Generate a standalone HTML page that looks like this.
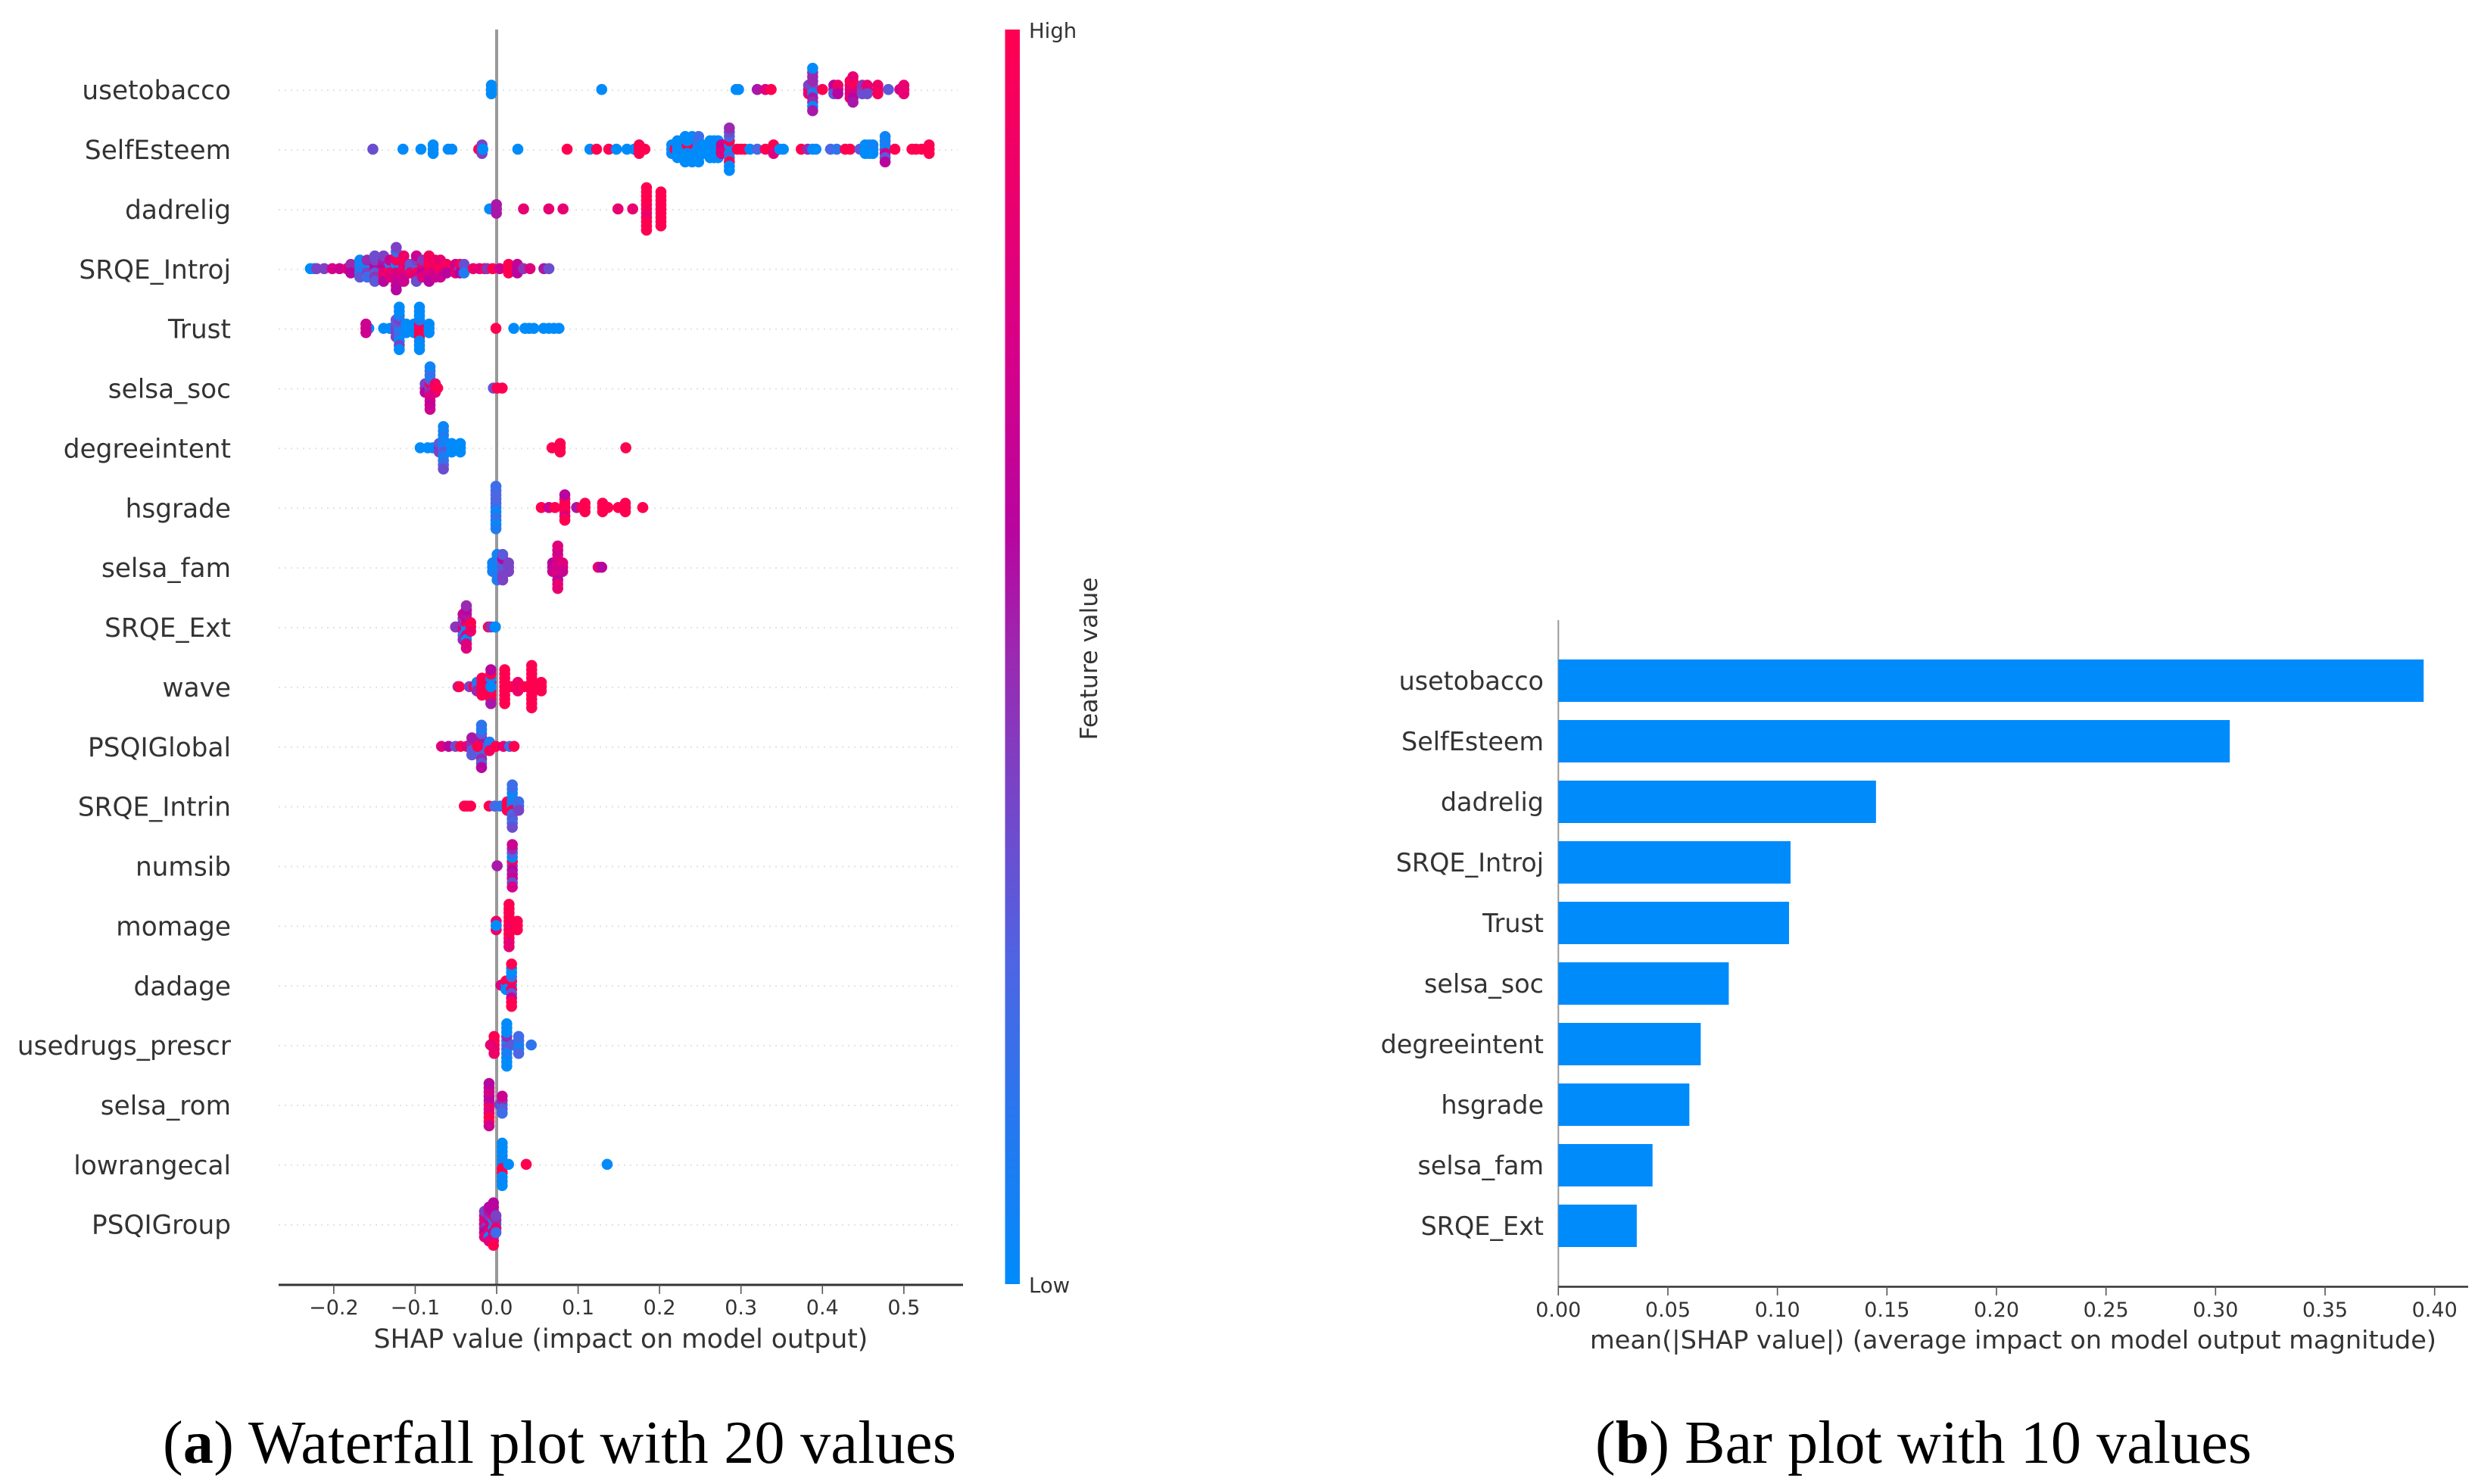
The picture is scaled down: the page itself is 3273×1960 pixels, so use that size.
<!DOCTYPE html>
<html lang="en">
<head>
<meta charset="utf-8">
<title>SHAP summary plots</title>
<style>
  html, body { margin: 0; padding: 0; background: #fff; }
  svg { display: block; }
  text { font-family: "DejaVu Sans", "Liberation Sans", sans-serif; fill: #333; }
  .caption { font-family: "Liberation Serif", serif; fill: #000; }
</style>
</head>
<body>
<svg id="figure" xmlns="http://www.w3.org/2000/svg" width="3273" height="1960" viewBox="0 0 3273 1960">
  <defs>
    <linearGradient id="colorbar-gradient" x1="0" y1="1" x2="0" y2="0">
      <stop offset="0" stop-color="#008bfb"/>
      <stop offset="0.25" stop-color="#4c66e4"/>
      <stop offset="0.5" stop-color="#9a2ab0"/>
      <stop offset="0.6" stop-color="#b8059f"/>
      <stop offset="0.75" stop-color="#d80088"/>
      <stop offset="1" stop-color="#ff0051"/>
    </linearGradient>
  </defs>
  <rect width="3273" height="1960" fill="#fff"/>
  <g id="swarm-plot"></g>
  <g id="bar-plot"></g>

  <text x="820" y="1780" font-size="34.6" text-anchor="middle">SHAP value (impact on model output)</text>
  <rect x="1327.5" y="39" width="19.5" height="1657" fill="url(#colorbar-gradient)"/>
  <text x="1359" y="50" font-size="27.5">High</text>
  <text x="1359" y="1707" font-size="27.5">Low</text>
  <text transform="translate(1449 870) rotate(-90)" font-size="31.5" text-anchor="middle">Feature value</text>
  <text x="2659" y="1781" font-size="33" text-anchor="middle" textLength="1118" lengthAdjust="spacingAndGlyphs">mean(|SHAP value|) (average impact on model output magnitude)</text>

  <text class="caption" x="215" y="1932" font-size="80" textLength="1048" lengthAdjust="spacing">(<tspan font-weight="bold">a</tspan>) Waterfall plot with 20 values</text>
  <text class="caption" x="2107" y="1932" font-size="80" textLength="867" lengthAdjust="spacing">(<tspan font-weight="bold">b</tspan>) Bar plot with 10 values</text>
</svg>

<script>
// ---- Beeswarm data: each column is [SHAP value, [feature value of each stacked dot]] ----
const swarmFeatures = ["usetobacco","SelfEsteem","dadrelig","SRQE_Introj","Trust","selsa_soc","degreeintent","hsgrade","selsa_fam","SRQE_Ext","wave","PSQIGlobal","SRQE_Intrin","numsib","momage","dadage","usedrugs_prescr","selsa_rom","lowrangecal","PSQIGroup"];
const swarmTickValues = [-0.2,-0.1,0,0.1,0.2,0.3,0.4,0.5];
const swarmTickLabels = ["\u22120.2","\u22120.1","0.0","0.1","0.2","0.3","0.4","0.5"];

const swarmUsetobacco = [[-.0065,[0,0,0]],[.129,[0]],[.294,[0]],[.297,[0]],[.32,[.55]],[.33,[.8]],[.337,[1]],[.383,[.9,.4,.9]],[.388,[.3,.35,.1,.5,.55,.5,.5,.5,0,0,.55]],[.40,[1]],[.414,[.4,.6,.3]],[.419,[.55,.9,.6]],[.434,[.8,.9,.8,.95,.85]],[.4375,[.9,.85,.8,1,.6,.85,.55]],[.449,[.4,.45,.35]],[.455,[.5,.85,.35]],[.468,[.95,.9,.95]],[.481,[.3]],[.495,[.75]],[.50,[.85,.85,.85]]];
const swarmSelfEsteem = [[-.152,[.35]],[-.115,[0]],[-.093,[0]],[-.078,[0,0,0]],[-.0595,[0]],[-.055,[0]],[-.022,[1]],[-.018,[.4,.4,.4]],[-.017,[0]],[.026,[0]],[.0865,[1]],[.1145,[0]],[.1227,[1]],[.1376,[1]],[.147,[0]],[.16,[0]],[.169,[0]],[.175,[1,1,1]],[.182,[1]],[.215,[0,0,0]],[.219,[1]],[.222,[0,0,0,0,0]],[.2315,[0,0,0,0,0,0,0]],[.24,[0,0,0,0,0,0,0]],[.234,[0,1,0,0,0]],[.248,[.05,.05,0,.15,0,.2,0]],[.2525,[0,0,0]],[.2585,[0,0,0]],[.262,[0,0,0,0,0]],[.267,[0,.05,0,0,0]],[.272,[0,0,0,0,0]],[.276,[.8,.7,.8]],[.2857,[.9,.1,.05,1,.2,.25,1,.35,0,.5,0]],[.2955,[1]],[.30,[1]],[.3045,[1]],[.311,[0]],[.32,[.25]],[.33,[1]],[.34,[1,1,.8]],[.3476,[0]],[.352,[0]],[.374,[1]],[.382,[.5]],[.388,[0]],[.392,[0]],[.41,[.25]],[.4175,[.15]],[.428,[1]],[.434,[1]],[.446,[.3]],[.4525,[0,0,0]],[.4575,[0,0,0]],[.462,[0,.05,0]],[.477,[.35,0,.7,.1,.3,.05,.6]],[.489,[1]],[.51,[1]],[.515,[1]],[.5215,[1]],[.531,[1,1,1]]];
const swarmDadrelig = [[-.0087,[0]],[-.0003,[.55,.55,.55]],[.033,[.85]],[.064,[.85]],[.0815,[.85]],[.149,[.85]],[.167,[.85]],[.184,[.85,.95,.95,1,.85,1,1,1,1,1,1]],[.2017,[1,1,1,1,1,1,1,1,1]]];
const swarmIntroj = [[-.2287,[0]],[-.224,[0]],[-.221,[.4]],[-.2117,[.4]],[-.2018,[.75]],[-.193,[.7]],[-.184,[.8]],[-.179,[.6,.5,.6]],[-.168,[.2,.1,.1,.05,.3]],[-.159,[.3,0,.4,.5,.2]],[-.1496,[.9,.6,.3,.4,.45,.35,.3]],[-.1388,[1,.6,.8,.55,.9,.4,.6]],[-.131,[1,.2,.9,.7,.8]],[-.1233,[.9,0,.8,.95,.75,.95,.7,.2,.65,.4,.6]],[-.114,[.85,.8,.9,.95,.75,.9,.7]],[-.106,[0,.3,.85]],[-.0985,[.5,.3,.95,.4,.8,.7,.35]],[-.091,[.7,.9,.6,.45,.8]],[-.083,[.75,1,.85,.95,.7,.95,.6]],[-.0754,[.6,.95,.8,.9,.7]],[-.069,[1,1,.9,.85,.7]],[-.0614,[.8,.95,.6]],[-.0505,[.9,.7,.8]],[-.045,[.3,.95,.6]],[-.04,[.7,.35,.1]],[-.0288,[.9]],[-.021,[.8]],[-.015,[.95]],[-.0118,[.45]],[-.005,[1]],[.0037,[.7]],[.0146,[1,1,1]],[.0254,[.6,.65,.6]],[.033,[.45]],[.041,[.8]],[.058,[.55]],[.0642,[.35]]];
const swarmTrust = [[-.157,[0]],[-.1605,[.7,.7,.7]],[-.1388,[0]],[-.131,[0]],[-.1235,[.4,.35,.4,.3,.4]],[-.1196,[0,.3,.1,.4,.2,.1,0,0,.4,0,0]],[-.111,[0,0,0]],[-.1016,[0,0,0]],[-.0948,[1,.9,1,.1,1,0,.05,0,0,0,0]],[-.083,[0,0,0]],[-.0009,[1]],[.021,[0]],[.0347,[0]],[.04,[0]],[.0456,[0]],[.0576,[0]],[.0642,[0]],[.0704,[0]],[.0765,[0]]];
const swarmSoc = [[-.0877,[.5,.4,.6]],[-.0818,[.3,.9,.5,.3,.8,.1,.75,.2,.65,.05,.7]],[-.0753,[1,.9,.8]],[-.0725,[1]],[-.004,[.35]],[.0006,[1]],[.0068,[1]]];
const swarmDegree = [[-.0939,[0]],[-.0846,[0]],[-.0784,[0]],[-.0705,[.5,.3,.4]],[-.0654,[.15,.05,.3,.1,.1,.05,.1,.1,.2,.05,.35]],[-.0551,[0,0,0]],[-.0446,[0,0,0]],[.068,[1]],[.078,[1,1,1]],[.1586,[1]]];
const swarmHsgrade = [[-.0009,[.25,.2,0,.25,.1,.25,.2,.25,0,.2,.1]],[.0548,[1]],[.0641,[.7]],[.0716,[1]],[.0837,[.8,1,1,1,.8,.6,1]],[.0982,[.55]],[.1085,[1,1,1]],[.1045,[1]],[.1301,[1,1,1]],[.1367,[1]],[.1494,[1]],[.158,[1,1,1]],[.1794,[1]]];
const swarmFam = [[-.005,[.05,.05,.05]],[.0006,[.02,.05,.08,.1,.1,.05,.1]],[.0074,[.35,.3,.3,.6,.4,.3,.4]],[.0146,[.4,.4,.4]],[.0688,[.55,.6,.7]],[.075,[.75,.8,.7,.7,.85,.8,.6,.7,.85,.8,.85]],[.081,[.7,.8,.7]],[.1246,[.85]],[.129,[.6]]];
const swarmExt = [[-.0505,[.45]],[-.0412,[.7,.5,.8,.4,.1,.7,.5]],[-.0372,[0,.9,0,.7,.8,.55,0,.6,.8,.5,.8]],[-.0319,[1,1,.9]],[-.0102,[1]],[-.007,[.45]],[-.0016,[.4]],[-.0016,[0]]];
const swarmWave = [[-.0475,[.5]],[-.0458,[1]],[-.0335,[.4]],[-.028,[1]],[-.0242,[.3,.15,.5]],[-.018,[1,1,1,1,1]],[-.0071,[.9,.8,.9,.1,1,1,1,.6,.55]],[-.0071,[0]],[.0099,[1,1,1,1,1,1,1,1,1]],[.018,[1]],[.026,[1,.9,.9]],[.034,[1]],[.043,[1,1,1,1,1,1,1,1,1,1,1]],[.05,[1]],[.0548,[1,1,1]]];
const swarmGlobal = [[-.0677,[.8]],[-.0589,[.6]],[-.0505,[.35]],[-.0443,[1]],[-.0366,[.8]],[-.0304,[.45,.5,.3,.55,.3]],[-.0186,[.15,.35,.2,.55,.25,.3,.5,.1,.3,.15,.6]],[-.0235,[1]],[-.0087,[.05,.1,.95]],[-.0009,[1]],[.0084,[.85]],[.016,[.2]],[.0214,[1]]];
const swarmIntrin = [[-.0397,[1]],[-.036,[1]],[-.0319,[1]],[-.0093,[1]],[-.0025,[.25]],[.0044,[.15]],[.013,[1,1,1]],[.0192,[.15,.05,1,.1,.2,0,.3,.15,.2,.2,.35]],[.027,[.15,.2,.4]]];
const swarmNumsib = [[.0006,[.55]],[.0192,[.35,1,.6,0,.55,.25,.7,.5,.35,.7,.75]]];
const swarmMomage = [[-.0006,[0,.9,.9]],[-.0006,[0]],[.0152,[1,1,.9,1,1,1,1,1,.85,1,.85]],[.0254,[1,1,1]]];
const swarmDadage = [[.0053,[.8]],[.0115,[.05,1,0]],[.0183,[0,1,.9,.2,.3,0,.7,0,1,1,1]]];
const swarmDrugs = [[-.0031,[.95,1,.85,1,.9]],[-.0075,[.85]],[.0124,[.25,.1,.3,.5,.05,0,.1,0,0,0,0]],[.0192,[.3]],[.027,[.2,.15,.05,.2,.25]],[.0425,[.15]]];
const swarmRom = [[-.0093,[1,.7,.9,.6,.8,.75,1,.7,1,.6,.7]],[.0035,[.4]],[.0068,[0,.5,.3,.7,.2]]];
const swarmLowrange = [[.0068,[0,0,1,.05,1,0,0,0,.05,0,0]],[.0146,[0]],[.0363,[1]],[.1357,[0]]];
const swarmGroup = [[-.0149,[.7,.8,.5,.75,.6,.4,.8]],[-.0093,[.3,.65,.7,.45,.85,.55,0,.6,.8]],[-.004,[1,.1,.05,.9,.7,.6,.75,.6,.8,.6,1]],[-.0009,[.15,.5,.9,.4,.2]]];
const swarmRows = [swarmUsetobacco,swarmSelfEsteem,swarmDadrelig,swarmIntroj,swarmTrust,swarmSoc,swarmDegree,swarmHsgrade,swarmFam,swarmExt,swarmWave,swarmGlobal,swarmIntrin,swarmNumsib,swarmMomage,swarmDadage,swarmDrugs,swarmRom,swarmLowrange,swarmGroup];

// ---- Bar chart data ----
const barCategories = ["usetobacco","SelfEsteem","dadrelig","SRQE_Introj","Trust","selsa_soc","degreeintent","hsgrade","selsa_fam","SRQE_Ext"];
const barValues = [0.395,0.3065,0.145,0.106,0.1053,0.0778,0.065,0.0598,0.043,0.0358];
const barTickValues = [0,0.05,0.1,0.15,0.2,0.25,0.3,0.35,0.4];
const barTickLabels = ["0.00","0.05","0.10","0.15","0.20","0.25","0.30","0.35","0.40"];

// ---- Axis functions ----
function swarmX(v) { return 656 + 1075.7 * v; }
function swarmY(i) { return 118.2 + 78.87 * i; }
function barX(v) { return 2058.3 + 2893.5 * v; }
function barY(i) { return 899 + 80 * i; }

const colorStops = [[0,[0,139,251]],[.25,[76,102,228]],[.5,[154,42,176]],[.6,[184,5,159]],[.75,[216,0,136]],[1,[255,0,81]]];
function colorOf(t) {
  for (let k = 1; k < colorStops.length; k++) {
    if (t <= colorStops[k][0]) {
      const a = colorStops[k - 1], b = colorStops[k];
      const f = (t - a[0]) / (b[0] - a[0]);
      return 'rgb(' + a[1].map(function (c, n) { return Math.round(c + (b[1][n] - c) * f); }).join(',') + ')';
    }
  }
  return 'rgb(255,0,81)';
}
function make(tag, parent, attrs, content) {
  const node = document.createElementNS('http://www.w3.org/2000/svg', tag);
  for (const key in attrs) { node.setAttribute(key, attrs[key]); }
  if (content !== undefined) { node.textContent = content; }
  parent.appendChild(node);
  return node;
}

// ---- Beeswarm plot ----
const swarmRoot = document.getElementById('swarm-plot');

swarmFeatures.forEach(function (name, i) {
  const guide = make('line', swarmRoot, { x1: 368, x2: 1265, y1: swarmY(i) + 1, y2: swarmY(i) + 1, stroke: '#e2e2e2', 'stroke-width': 2, 'stroke-dasharray': '2 6' });
  
  
});

const zeroLine = make('line', swarmRoot, { x1: swarmX(0), x2: swarmX(0), y1: 39, y2: 1697, stroke: '#999', 'stroke-width': 4 });



swarmFeatures.forEach(function (name, i) {
  const label = make('text', swarmRoot, { x: 305, y: swarmY(i) + 13, 'font-size': 34.3, 'text-anchor': 'end' }, name);
  
  
});

swarmRows.forEach(function (columns, i) {
  let maxHalf = 1;
  columns.forEach(function (col) { maxHalf = Math.max(maxHalf, Math.ceil((col[1].length - 1) / 2)); });
  const spacing = 28 / maxHalf;
  const group = make('g', swarmRoot, {});
  
  
  columns.forEach(function (col) {
    col[1].forEach(function (feature, layer) {
      const offset = Math.ceil(layer / 2) * (layer % 2 ? -1 : 1) * spacing;
      const dot = make('circle', group, { cx: swarmX(col[0]), cy: swarmY(i) + offset, r: 7.3, fill: colorOf(feature) });
      
      
    });
  });
});

const swarmAxis = make('line', swarmRoot, { x1: 368, x2: 1272, y1: 1697, y2: 1697, stroke: '#333', 'stroke-width': 3 });



swarmTickValues.forEach(function (value, i) {
  const tick = make('line', swarmRoot, { x1: swarmX(value), x2: swarmX(value), y1: 1697, y2: 1709, stroke: '#555', 'stroke-width': 1.6 });
  
  
  const label = make('text', swarmRoot, { x: swarmX(value), y: 1736, 'font-size': 27, 'text-anchor': 'middle' }, swarmTickLabels[i]);
  
  
});

// ---- Bar plot ----
const barRoot = document.getElementById('bar-plot');

const barSpine = make('line', barRoot, { x1: barX(0), x2: barX(0), y1: 819, y2: 1699, stroke: '#999', 'stroke-width': 2 });



barCategories.forEach(function (name, i) {
  const bar = make('rect', barRoot, { x: barX(0), y: barY(i) - 28, width: barX(barValues[i]) - barX(0), height: 56, fill: '#008bfb' });
  
  
  const label = make('text', barRoot, { x: 2039, y: barY(i) + 12, 'font-size': 33.4, 'text-anchor': 'end' }, name);
  
  
});

const barAxis = make('line', barRoot, { x1: barX(0), x2: 3260, y1: 1699.5, y2: 1699.5, stroke: '#333', 'stroke-width': 2.5 });



barTickValues.forEach(function (value, i) {
  const tick = make('line', barRoot, { x1: barX(value), x2: barX(value), y1: 1699, y2: 1711, stroke: '#555', 'stroke-width': 1.6 });
  
  
  const label = make('text', barRoot, { x: barX(value), y: 1739, 'font-size': 27, 'text-anchor': 'middle' }, barTickLabels[i]);
  
  
});
</script>
</body>
</html>
